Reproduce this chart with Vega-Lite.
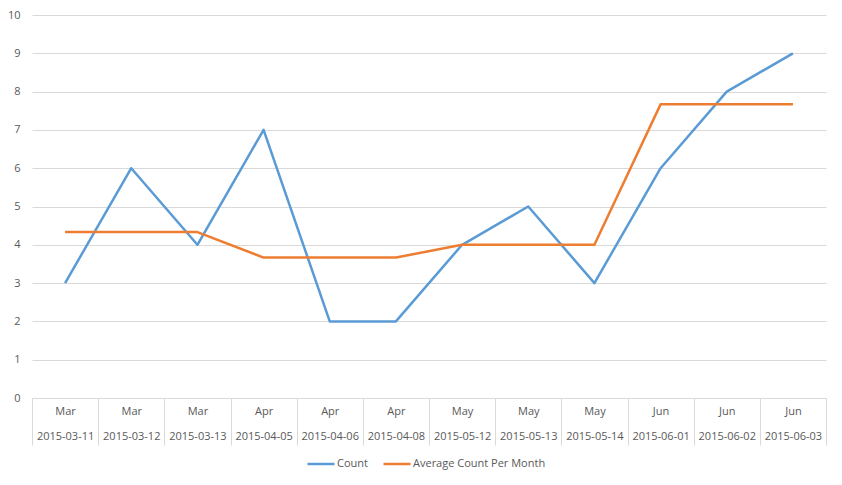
{
  "$schema": "https://vega.github.io/schema/vega-lite/v6.json",
  "autosize": "none",
  "width": 794,
  "height": 383,
  "padding": {"left": 32, "top": 15, "right": 16, "bottom": 87},
  "background": "white",
  "config": {
    "view": {"stroke": null},
    "font": "Open Sans",
    "axis": {"labelFont": "Open Sans", "labelFontSize": 11, "labelColor": "#595959"},
    "legend": {"labelFont": "Open Sans", "labelFontSize": 11, "labelColor": "#595959"}
  },
  "data": {
    "values": [
      {"date": "2015-03-11", "series": "Count", "value": 3},
      {"date": "2015-03-12", "series": "Count", "value": 6},
      {"date": "2015-03-13", "series": "Count", "value": 4},
      {"date": "2015-04-05", "series": "Count", "value": 7},
      {"date": "2015-04-06", "series": "Count", "value": 2},
      {"date": "2015-04-08", "series": "Count", "value": 2},
      {"date": "2015-05-12", "series": "Count", "value": 4},
      {"date": "2015-05-13", "series": "Count", "value": 5},
      {"date": "2015-05-14", "series": "Count", "value": 3},
      {"date": "2015-06-01", "series": "Count", "value": 6},
      {"date": "2015-06-02", "series": "Count", "value": 8},
      {"date": "2015-06-03", "series": "Count", "value": 9},
      {"date": "2015-03-11", "series": "Average Count Per Month", "value": 4.333},
      {"date": "2015-03-12", "series": "Average Count Per Month", "value": 4.333},
      {"date": "2015-03-13", "series": "Average Count Per Month", "value": 4.333},
      {"date": "2015-04-05", "series": "Average Count Per Month", "value": 3.667},
      {"date": "2015-04-06", "series": "Average Count Per Month", "value": 3.667},
      {"date": "2015-04-08", "series": "Average Count Per Month", "value": 3.667},
      {"date": "2015-05-12", "series": "Average Count Per Month", "value": 4},
      {"date": "2015-05-13", "series": "Average Count Per Month", "value": 4},
      {"date": "2015-05-14", "series": "Average Count Per Month", "value": 4},
      {"date": "2015-06-01", "series": "Average Count Per Month", "value": 7.667},
      {"date": "2015-06-02", "series": "Average Count Per Month", "value": 7.667},
      {"date": "2015-06-03", "series": "Average Count Per Month", "value": 7.667}
    ]
  },
  "mark": {"type": "line", "strokeWidth": 2.5, "strokeJoin": "round"},
  "encoding": {
    "x": {
      "field": "date",
      "type": "ordinal",
      "sort": null,
      "scale": {"type": "band", "paddingInner": 0, "paddingOuter": 0},
      "axis": {
        "title": null,
        "labelAngle": 0,
        "tickBand": "extent",
        "tickSize": 47,
        "tickColor": "#d9d9d9",
        "domainColor": "#d9d9d9",
        "labelPadding": -40,
        "labelBaseline": "top",
        "labelLineHeight": 25,
        "labelExpr": "datum.value == null ? '' : [utcFormat(toDate(datum.value), '%b'), datum.value]",
        "grid": false
      }
    },
    "y": {
      "field": "value",
      "type": "quantitative",
      "scale": {"domain": [0, 10], "nice": false},
      "axis": {
        "title": null,
        "values": [0, 1, 2, 3, 4, 5, 6, 7, 8, 9, 10],
        "ticks": false,
        "domain": false,
        "gridColor": "#d9d9d9",
        "labelPadding": 12
      }
    },
    "color": {
      "field": "series",
      "type": "nominal",
      "sort": ["Count", "Average Count Per Month"],
      "scale": {"domain": ["Count", "Average Count Per Month"], "range": ["#5b9bd5", "#ed7d31"]},
      "legend": {
        "title": null,
        "orient": "none",
        "direction": "horizontal",
        "legendX": 274,
        "legendY": 434,
        "symbolType": "stroke",
        "symbolSize": 729,
        "symbolStrokeWidth": 2.5,
        "labelOffset": 1,
        "columnPadding": 10
      }
    }
  }
}
